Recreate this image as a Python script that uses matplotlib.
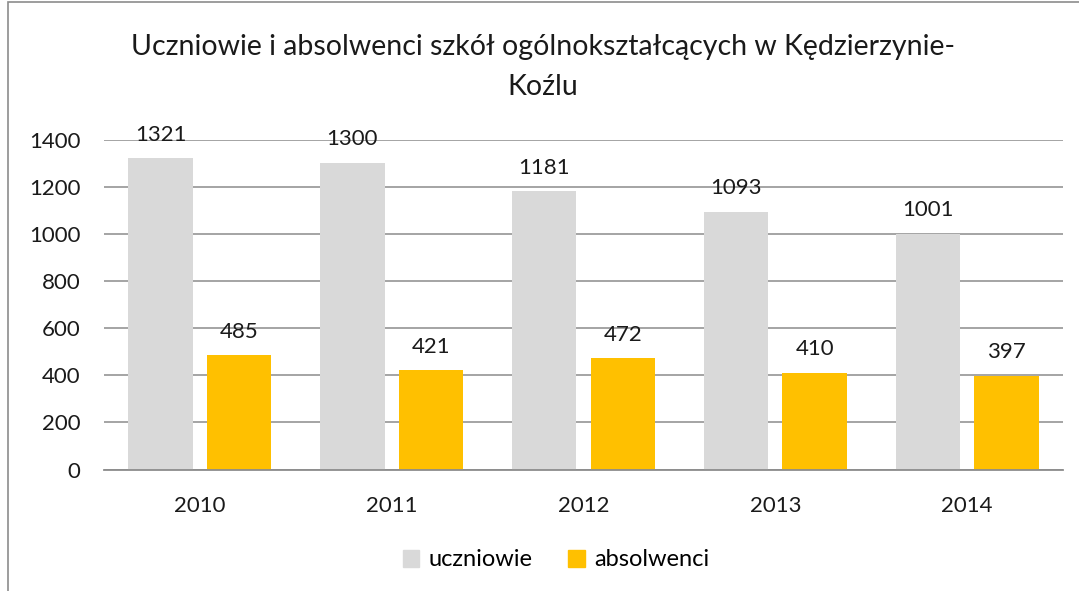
import matplotlib
matplotlib.use("Agg")
import matplotlib.pyplot as plt
from matplotlib.patches import Rectangle, Patch
import numpy as np

years = ["2010", "2011", "2012", "2013", "2014"]
uczniowie = [1321, 1300, 1181, 1093, 1001]
absolwenci = [485, 421, 472, 410, 397]
series_names = ["uczniowie", "absolwenci"]
title = "Uczniowie i absolwenci szkół ogólnokształcących w Kędzierzynie-\nKoźlu"

plt.rcParams['font.family'] = ['Lato', 'DejaVu Sans']

W, H = 1079, 591
fig = plt.figure(figsize=(W / 100, H / 100), dpi=100)
ax = fig.add_axes([104 / W, 1 - 469.5 / H, (1063 - 104) / W, (469.5 - 139.5) / H])

gray = "#D9D9D9"
gold = "#FFC000"
x = np.arange(len(years))
bw = 0.335
off = 0.205
b1 = ax.bar(x - off, uczniowie, bw, color=gray, zorder=2)
b2 = ax.bar(x + off, absolwenci, bw, color=gold, zorder=2)

for bars, vals in ((b1, uczniowie), (b2, absolwenci)):
    for r, v in zip(bars, vals):
        ax.annotate(str(v), (r.get_x() + r.get_width() / 2, v), xytext=(0, 17),
                    textcoords="offset points", ha="center", va="center",
                    fontsize=16, color="#1a1a1a")

ax.set_xlim(-0.5, len(years) - 0.5)
ax.set_ylim(0, 1400)
ax.set_yticks(range(0, 1401, 200))
ax.set_xticks(x)
ax.set_xticklabels(years)
ax.yaxis.grid(True, color="#8c8c8c", linewidth=1.1, zorder=0)
ax.set_axisbelow(True)
for s in ["top", "right", "left"]:
    ax.spines[s].set_visible(False)
ax.spines["bottom"].set_color("#8c8c8c")
ax.spines["bottom"].set_linewidth(1.3)
ax.tick_params(axis="both", length=0, labelsize=16, colors="#1a1a1a")
ax.tick_params(axis="y", pad=17)
ax.tick_params(axis="x", pad=19)

fig.text(543 / W, 1 - 67 / H, title, ha="center", va="center", fontsize=20.5,
         color="#1a1a1a", linespacing=1.65)

handles = [Patch(color=gray), Patch(color=gold)]
fig.legend(handles, series_names, loc="center", bbox_to_anchor=(556 / W, 1 - 560 / H),
           ncol=2, frameon=False, fontsize=17, handlelength=0.7, handleheight=0.7,
           handletextpad=0.4, columnspacing=1.5)

fig.patches.append(Rectangle((8 / W, -0.1), 1.2, 1 - 2 / H + 0.1, transform=fig.transFigure,
                             fill=False, edgecolor="#8c8c8c", linewidth=1.2))

fig.savefig("out.png", dpi=100, facecolor="white")
